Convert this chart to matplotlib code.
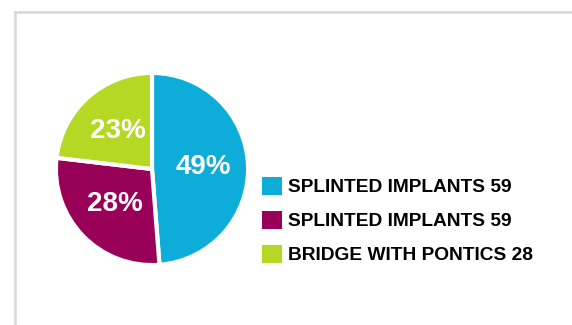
import matplotlib
matplotlib.use("Agg")
import matplotlib.pyplot as plt
from matplotlib.patches import Patch
from matplotlib.lines import Line2D

# Data
categories = ["SPLINTED IMPLANTS", "SPLINTED IMPLANTS", "BRIDGE WITH PONTICS"]
legend_counts = [59, 59, 28]
values = [59, 34, 28]
colors = ["#0eadd9", "#990057", "#b4d824"]

plt.rcParams["font.family"] = ["Liberation Sans", "DejaVu Sans"]

fig = plt.figure(figsize=(5.72, 3.25), dpi=100)
W, H = 572, 325

# Panel frame (top and left edges)
fig.add_artist(Line2D([15.5 / W, 15.5 / W], [0, 1 - 11.5 / H], transform=fig.transFigure,
                      color="#d8d8dc", lw=1.8))
fig.add_artist(Line2D([15.5 / W, 1], [1 - 11.5 / H, 1 - 11.5 / H], transform=fig.transFigure,
                      color="#d8d8dc", lw=1.8))

# Pie
cx, cy, r = 152, 169, 98
ax = fig.add_axes([(cx - r) / W, 1 - (cy + r) / H, 2 * r / W, 2 * r / H])
wedges, texts, autotexts = ax.pie(values, colors=colors, startangle=90, counterclock=False,
                                  radius=1, autopct="%.0f%%", pctdistance=0.53,
                                  wedgeprops=dict(edgecolor="white", linewidth=3),
                                  textprops=dict(color="white", fontsize=20, fontweight="bold"))
ax.set_xlim(-1.02, 1.02)
ax.set_ylim(-1.02, 1.02)
ax.set_aspect("equal")
ax.axis("off")

# Legend
handles = [Patch(facecolor=c, edgecolor="none") for c in colors]
labels = [f"{c} {n}" for c, n in zip(categories, legend_counts)]
fig.legend(handles, labels, loc="upper left", bbox_to_anchor=(262 / W, 1 - 177 / H),
           frameon=False, prop=dict(weight="bold", size=13.8),
           handlelength=1.05, handleheight=1.05, handletextpad=0.3, labelspacing=0.76,
           borderpad=0, borderaxespad=0)

fig.savefig("out.png", dpi=100)
